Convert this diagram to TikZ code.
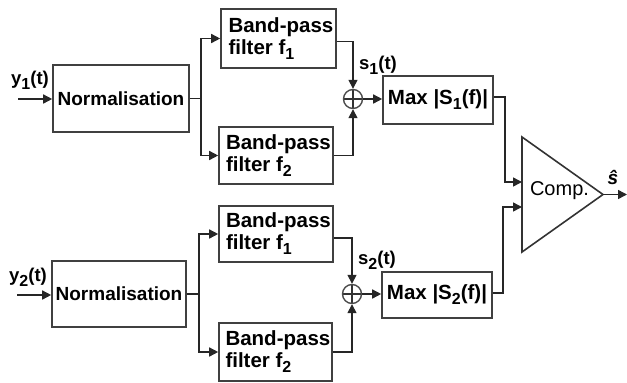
\documentclass[tikz,border=0pt]{standalone}
\usepackage{fontspec}
\setmainfont{Liberation Sans}
\usetikzlibrary{arrows.meta,calc}
\newcommand\dn[1]{\raisebox{-5pt}{\fontsize{16}{16}\selectfont #1}}
\newcommand\bpf[1]{\begin{minipage}{104pt}\raggedright\hspace*{2pt}\mbox{Band-pass}\\\hspace*{2pt}\mbox{filter f\dn{#1}}\end{minipage}}
\begin{document}
\begin{tikzpicture}[x=1pt,y=-1pt,
  line width=1.5pt,
  conn/.style={-{Triangle[length=9pt,width=9pt]},draw=black!85},
  blk/.style={draw=black!75,line width=1.6pt,rectangle,inner sep=0pt,
    font=\fontsize{19}{22}\selectfont\bfseries},
  ftxt/.style={font=\fontsize{20.5}{22}\selectfont\bfseries},
  summ/.style={draw=black!70,line width=1.4pt,circle,minimum size=19pt,inner sep=0pt,
    path picture={\draw[black!80,line width=1.2pt] (path picture bounding box.north) -- (path picture bounding box.south)
      (path picture bounding box.west) -- (path picture bounding box.east);}},
  lbl/.style={font=\fontsize{18.5}{19}\selectfont\bfseries,inner sep=0pt}]
\useasboundingbox (0,0) rectangle (627,383);

% top chain
\node[blk,minimum width=136pt,minimum height=67pt] (n1) at (121,98.5) {Normalisation};
\node[blk,ftxt,minimum width=115pt,minimum height=59pt] (bp1) at (278.5,38.5) {\bpf{1}};
\node[blk,ftxt,minimum width=114pt,minimum height=57pt] (bp2) at (276,155.5) {\bpf{2}};
\node[summ] (s1) at (353,99) {};
\node[blk,ftxt,minimum width=110pt,minimum height=48pt] (m1) at (438,100) {Max |S\dn{1}(f)|};

% bottom chain
\node[blk,minimum width=134pt,minimum height=66pt] (n2) at (119,294) {Normalisation};
\node[blk,ftxt,minimum width=114pt,minimum height=56pt] (bp3) at (276,234) {\bpf{1}};
\node[blk,ftxt,minimum width=113pt,minimum height=58pt] (bp4) at (275.5,352) {\bpf{2}};
\node[summ] (s2) at (352,294) {};
\node[blk,ftxt,minimum width=110pt,minimum height=46pt] (m2) at (437,295) {Max |S\dn{2}(f)|};

% comparator
\coordinate (ct) at (522,137);
\coordinate (cb) at (522,252);
\coordinate (ca) at (603,194.5);
\draw[black!80,line width=1.6pt] (ct) -- (cb) -- (ca) -- cycle;
\node[font=\fontsize{20}{22}\selectfont,inner sep=0pt] (comp) at (559.5,191) {Comp.};
\coordinate (cin1) at (522,182);
\coordinate (cin2) at (522,207);
\coordinate (cout) at (627,194.5);

% inputs
\coordinate (in1) at (18,99);
\coordinate (in2) at (17,295);
\draw[conn] (in1) -- (in1 -| n1.west);
\draw[conn] (in2) -- (in2 -| n2.west);
\node[lbl] (y1) at (30,80) {y\dn{1}(t)};
\node[lbl] (y2) at (28,277) {y\dn{2}(t)};

% branches top
\draw[conn] (n1.east) -- ++(11,0) |- (bp1.west);
\draw[conn] (n1.east) -- ++(11,0) |- (bp2.west);
\draw[conn] ($(bp1.east)+(0,3)$) -| (s1.north);
\draw[conn] (bp2.east) -| (s1.south);
\draw[conn] (s1.east) -- (m1.west |- s1.east);
\node[lbl] (s1l) at (378,65) {s\dn{1}(t)};
\draw[conn] ($(m1.east)+(0,-3)$) -- ++(11,0) |- (cin1);

% branches bottom
\draw[conn] (n2.east) -- ++(12,0) |- (bp3.west);
\draw[conn] (n2.east) -- ++(12,0) |- (bp4.west);
\draw[conn] ($(bp3.east)+(0,4)$) -| (s2.north);
\draw[conn] (bp4.east) -| (s2.south);
\draw[conn] (s2.east) -- (m2.west |- s2.east);
\node[lbl] (s2l) at (377,260) {s\dn{2}(t)};
\draw[conn] ($(m2.east)+(0,-2)$) -- ++(10,0) |- (cin2);

% output
\draw[conn] (ca) -- (cout);
\node[font=\fontsize{19}{20}\selectfont\bfseries\itshape,inner sep=0pt] (shat) at (613,177) {ŝ};
\end{tikzpicture}
\end{document}
